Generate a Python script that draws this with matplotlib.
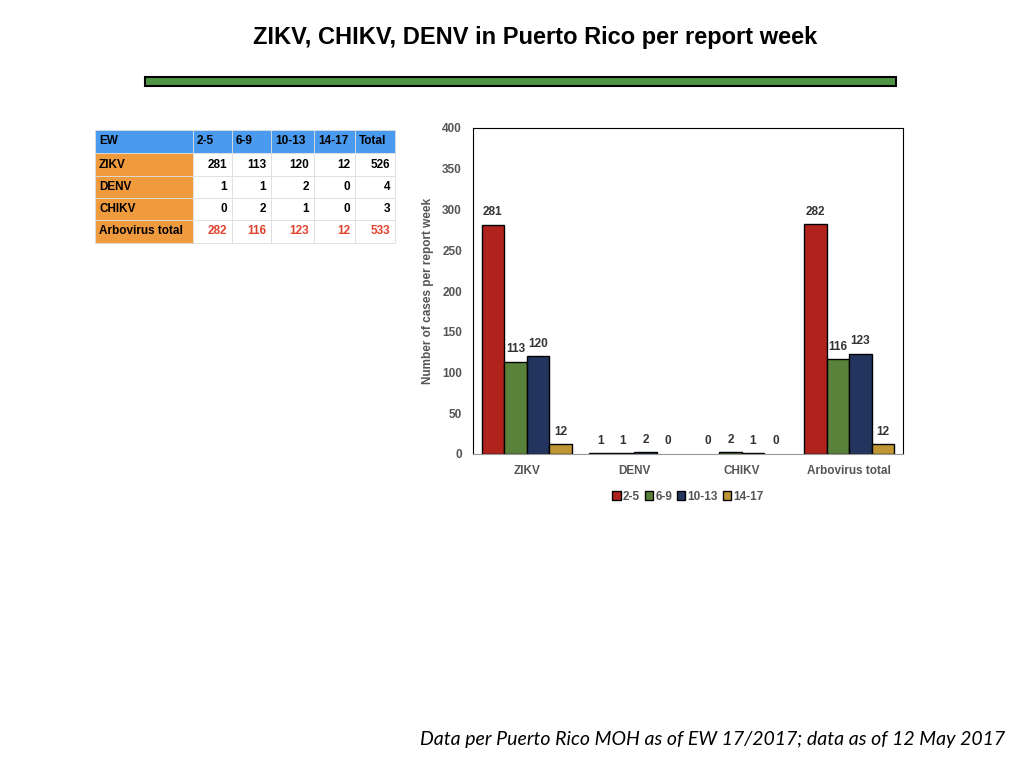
import matplotlib.pyplot as plt
from matplotlib.patches import Rectangle
import numpy as np

plt.rcParams['font.family'] = ['Liberation Sans', 'DejaVu Sans']

# Datos
categorias = ['ZIKV', 'DENV', 'CHIKV', 'Arbovirus total']
semanas = ['2-5', '6-9', '10-13', '14-17']
v_2_5 = [281, 1, 0, 282]
v_6_9 = [113, 1, 2, 116]
v_10_13 = [120, 2, 1, 123]
v_14_17 = [12, 0, 0, 12]
totales = [526, 4, 3, 533]

colores = ['#B0231C', '#5A823A', '#23355F', '#BF9631']
gris = '#555555'

fig = plt.figure(figsize=(10.24, 7.68), dpi=100)

# Titulo y barra verde
fig.text(0.523, 0.951, 'ZIKV, CHIKV, DENV in Puerto Rico per report week',
         ha='center', va='center', fontsize=17, fontweight='bold')
fig.patches.append(Rectangle((145 / 1024, 1 - 86 / 768), 751 / 1024, 9 / 768,
                             transform=fig.transFigure, facecolor='#4F9444',
                             edgecolor='black', linewidth=1.5))

# Tabla
tabla = [['EW'] + semanas + ['Total']]
series = [v_2_5, v_6_9, v_10_13, v_14_17]
for i, cat in enumerate(categorias):
    fila = [cat] + [str(s[i]) for s in series] + [str(totales[i])]
    tabla.append(fila)

col_x = [95, 193, 232, 271, 314, 355, 395]
row_y = [130, 153, 176, 198, 220, 243]
for r, fila in enumerate(tabla):
    for c, txt in enumerate(fila):
        x0, x1 = col_x[c], col_x[c + 1]
        y0, y1 = row_y[r], row_y[r + 1]
        if r == 0:
            fc = '#4A9BF0'
        elif c == 0:
            fc = '#F09A3E'
        else:
            fc = 'white'
        fig.patches.append(Rectangle((x0 / 1024, 1 - y1 / 768), (x1 - x0) / 1024,
                                     (y1 - y0) / 768, transform=fig.transFigure,
                                     facecolor=fc, edgecolor='#DDDDDD', linewidth=0.6))
        color = '#E0442E' if (r == 4 and c > 0) else 'black'
        if r == 0 or c == 0:
            fig.text((x0 + 4) / 1024, 1 - (y0 + y1) / 2 / 768, txt, ha='left',
                     va='center', fontsize=8.5, fontweight='bold', color=color)
        else:
            fig.text((x1 - 5) / 1024, 1 - (y0 + y1) / 2 / 768, txt, ha='right',
                     va='center', fontsize=8.5, fontweight='bold', color=color)

# Grafico de barras
ax = fig.add_axes([473 / 1024, 1 - 454 / 768, 430 / 1024, 326 / 768])
x = np.arange(len(categorias))
ancho = 0.21
for i, (s, col, lab) in enumerate(zip(series, colores, semanas)):
    pos = x + (i - 1.5) * ancho
    bordes = [1 if v > 0 else 0 for v in s]
    ax.bar(pos, s, ancho, color=col, edgecolor='black', linewidth=bordes, label=lab)
    for p, v in zip(pos, s):
        ax.text(p, v + 8, str(v), ha='center', va='bottom', fontsize=8.5,
                fontweight='bold', color='#333333')

ax.set_xlim(-0.5, 3.5)
ax.set_ylim(0, 400)
ax.set_yticks(range(0, 401, 50))
ax.set_xticks(x)
ax.set_xticklabels(categorias)
ax.tick_params(length=0, labelsize=8.5, colors=gris, pad=8)
for lab in ax.get_xticklabels() + ax.get_yticklabels():
    lab.set_fontweight('bold')
ax.set_ylabel('Number of cases per report week', fontsize=8.5, fontweight='bold',
              color=gris, labelpad=6)
ax.spines['bottom'].set_color('#999999')
for sp in ['top', 'right', 'left']:
    ax.spines[sp].set_color('black')
    ax.spines[sp].set_linewidth(0.8)

leg = ax.legend(loc='upper center', bbox_to_anchor=(0.5, -0.08), ncol=4, frameon=False,
                handlelength=0.7, handleheight=0.7, handletextpad=0.2,
                columnspacing=0.4, prop={'weight': 'bold', 'size': 8.5})
for t in leg.get_texts():
    t.set_color(gris)

# Pie
fig.text(1005 / 1024, 1 - 740 / 768,
         'Data per Puerto Rico MOH as of EW 17/2017; data as of 12 May 2017',
         ha='right', va='center', fontsize=14, style='italic', family='Lato')

plt.savefig('out.png', dpi=100)
